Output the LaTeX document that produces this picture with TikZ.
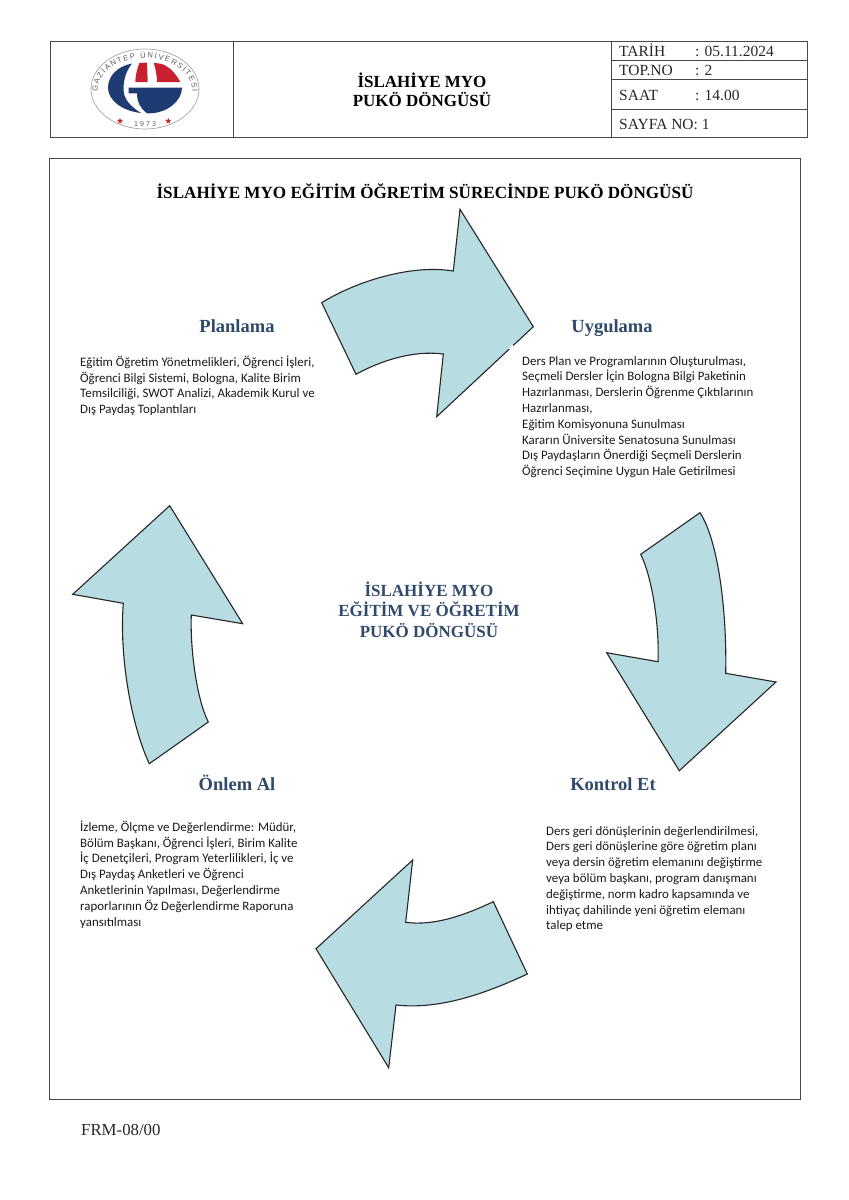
\documentclass[tikz,border=0pt]{standalone}
\usepackage{fontspec}
\setmainfont{Liberation Serif}
\newfontfamily\bodyfont{Carlito}
\newfontfamily\logofont{Liberation Sans}
\usetikzlibrary{shapes.geometric,decorations.text}
\definecolor{arrowfill}{HTML}{B7DDE3}
\definecolor{headblue}{HTML}{2F4A6B}
\definecolor{logonavy}{HTML}{1F3B73}
\definecolor{logored}{HTML}{C9202F}
\tikzset{
  frameline/.style={draw=black!72,line width=0.95pt},
  bigarrow/.style={fill=arrowfill,draw=black!85,line width=1.1pt,line join=miter},
  para/.style={anchor=north west,inner sep=0pt,align=left,text=black!90,font=\bodyfont\fontsize{12.9}{15.8}\selectfont},
  heading/.style={anchor=base,inner sep=0pt,text=headblue,font=\bfseries\fontsize{18.5}{18.5}\selectfont},
  centretitle/.style={inner sep=0pt,align=center,text=headblue,font=\bfseries\fontsize{17}{20.5}\selectfont},
  cell/.style={anchor=base west,inner sep=0pt,text=black!85,font=\fontsize{15.5}{15.5}\selectfont},
  logostar/.style={star,star points=5,star point ratio=2.5,fill=logored,inner sep=0pt,minimum size=6.5pt},
}
\begin{document}
\begin{tikzpicture}[x=1pt,y=-1pt]
\useasboundingbox (0,0) rectangle (849,1200);
% header table
\draw[frameline] (50,41) rectangle (807,137);
\draw[frameline] (233,41) -- (233,137);
\draw[frameline] (611,41) -- (611,137);
\draw[frameline] (611,60) -- (807,60);
\draw[frameline] (611,79.5) -- (807,79.5);
\draw[frameline] (611,109.5) -- (807,109.5);
% logo
\draw[black!35,line width=0.7pt] (145,89) ellipse [x radius=54,y radius=40];
\path[decorate,decoration={text along path,text align={fit to path},
  text={|\logofont\fontsize{7.5}{7.5}\selectfont\color{black!65}|GAZİANTEP ÜNİVERSİTESİ}}]
  (97.5,92) .. controls (97.5,72) and (119,58) .. (145,58) .. controls (171,58) and (192.5,72) .. (192.5,92);
\fill[logonavy] (132,63.5) .. controls (117,66.5) and (108,76) .. (108,88) .. controls (108,100) and (122,111) .. (141,113) .. controls (130,106) and (123.5,99) .. (123.5,89) .. controls (123.5,80) and (126,71) .. (132,63.5) -- cycle;
\fill[logonavy] (128.7,87.7) -- (182,87.7) .. controls (182,101) and (167,113) .. (150,113.3) -- (147,113.3) .. controls (140,108) and (137,102) .. (137,93.3) -- (128.7,93.3) -- cycle;
\fill[logored] (139.5,63) -- (147,62.5) -- (147.7,82) -- (135.3,82) .. controls (135.5,75) and (137,69) .. (139.5,63) -- cycle;
\fill[logored] (153.7,62.7) -- (162,64) .. controls (170,67) and (176,74) .. (180.3,82) -- (157,82) .. controls (157,75) and (155.5,69) .. (153.7,62.7) -- cycle;
\node[logostar] (starL) at (120,121) {};
\node[logostar] (starR) at (168.3,121) {};
\node[inner sep=0pt,text=black!65,font=\logofont\fontsize{7}{7}\selectfont\addfontfeature{LetterSpace=30}] (year) at (145,124) {1973};
% header text
\node[inner sep=0pt,align=center,font=\bfseries\fontsize{17}{19}\selectfont] (headtitle) at (422,89.5) {İSLAHİYE MYO\\PUKÖ DÖNGÜSÜ};
\node[cell] (tarih) at (619,56) {TARİH};
\node[cell] (tarihv) at (695,56) {: 05.11.2024};
\node[cell] (topno) at (619,75) {TOP.NO};
\node[cell] (topnov) at (695,75) {: 2};
\node[cell] (saat) at (619,100) {SAAT};
\node[cell] (saatv) at (695,100) {: 14.00};
\node[cell] (sayfa) at (619,129) {SAYFA NO: 1};
% main frame
\draw[frameline] (49.5,158) rectangle (800,1099);
\node[inner sep=0pt,font=\bfseries\fontsize{17.1}{17.1}\selectfont] (maintitle) at (425,191) {İSLAHİYE MYO EĞİTİM ÖĞRETİM SÜRECİNDE PUKÖ DÖNGÜSÜ};
% arrows
\draw[bigarrow] (321.7,302.7) .. controls (355,282) and (410,264) .. (453.3,271) -- (460,209.3) -- (533.3,326.7) -- (436.7,416.7) -- (443.3,354) .. controls (413,350) and (380,361) .. (356,374.3) -- cycle;
\draw[white,line width=1.8pt] (509.5,349) -- (513,345.5);
\draw[bigarrow] (700,512.7) .. controls (718,540) and (727,610) .. (725.7,673.3) -- (776,682) -- (679.3,770.7) -- (606.7,652.7) -- (658,661.7) .. controls (659.5,625) and (652,577) .. (640.7,554.3) -- cycle;
\draw[bigarrow] (527.3,974) .. controls (486.8,993) and (440,1010) .. (396,1005) -- (388.7,1067.7) -- (316,948.7) -- (412.7,860) -- (405.7,922.3) .. controls (435,926.3) and (466,914.5) .. (493.3,901.7) -- cycle;
\draw[bigarrow] (149.3,763.7) .. controls (132,727) and (119,658) .. (123.3,603.3) -- (72.7,594.3) -- (169.7,505.7) -- (242.7,623.7) -- (191.3,615) .. controls (190,650) and (197,700) .. (208.3,722) -- cycle;
% headings
\node[heading] (plan) at (237,332) {Planlama};
\node[heading] (uyg) at (612,332) {Uygulama};
\node[heading] (kon) at (613,790.5) {Kontrol Et};
\node[heading] (onl) at (237,790.5) {Önlem Al};
\node[centretitle] (centre) at (429,609.5) {İSLAHİYE MYO\\EĞİTİM VE ÖĞRETİM\\PUKÖ DÖNGÜSÜ};
% paragraphs
\node[para] (ptext) at (80,355.5) {Eğitim Öğretim Yönetmelikleri, Öğrenci İşleri,\\Öğrenci Bilgi Sistemi, Bologna, Kalite Birim\\Temsilciliği, SWOT Analizi, Akademik Kurul ve\\Dış Paydaş Toplantıları};
\node[para] (utext) at (522,356) {Ders Plan ve Programlarının Oluşturulması,\\Seçmeli Dersler İçin Bologna Bilgi Paketinin\\Hazırlanması, Derslerin Öğrenme Çıktılarının\\Hazırlanması,\\Eğitim Komisyonuna Sunulması\\Kararın Üniversite Senatosuna Sunulması\\Dış Paydaşların Önerdiği Seçmeli Derslerin\\Öğrenci Seçimine Uygun Hale Getirilmesi};
\node[para] (ktext) at (546,826) {Ders geri dönüşlerinin değerlendirilmesi,\\Ders geri dönüşlerine göre öğretim planı\\veya dersin öğretim elemanını değiştirme\\veya bölüm başkanı, program danışmanı\\değiştirme, norm kadro kapsamında ve\\ihtiyaç dahilinde yeni öğretim elemanı\\talep etme};
\node[para] (otext) at (80,820.5) {İzleme, Ölçme ve Değerlendirme: Müdür,\\Bölüm Başkanı, Öğrenci İşleri, Birim Kalite\\İç Denetçileri, Program Yeterlilikleri, İç ve\\Dış Paydaş Anketleri ve Öğrenci\\Anketlerinin Yapılması, Değerlendirme\\raporlarının Öz Değerlendirme Raporuna\\yansıtılması};
% footer
\node[anchor=base west,inner sep=0pt,text=black!85,font=\fontsize{16.8}{16.8}\selectfont] (frm) at (81,1135.5) {FRM-08/00};
\end{tikzpicture}
\end{document}
